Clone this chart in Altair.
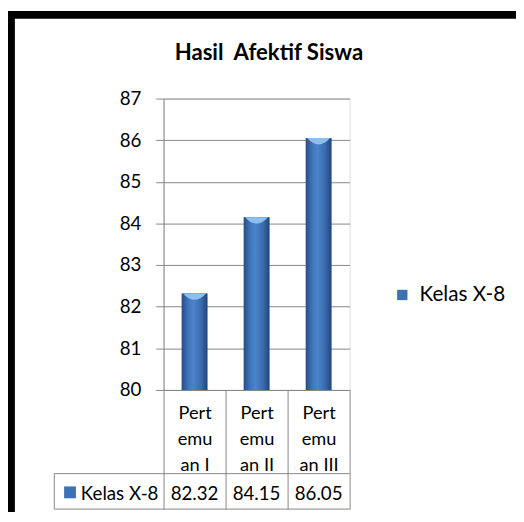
import altair as alt
import pandas as pd

# ---- data ----
categories = ["Pertemuan I", "Pertemuan II", "Pertemuan III"]
values = [82.32, 84.15, 86.05]
series_name = "Kelas X-8"
y_ticks = [80, 81, 82, 83, 84, 85, 86, 87]
title_text = "Hasil\u00a0 Afektif Siswa"

df = pd.DataFrame({
    "cat": categories,
    "value": values,
    "series": [series_name] * len(categories),
    "label": [f"{v:.2f}" for v in values],
})
row_df = pd.DataFrame({"series": [series_name]})
title_df = pd.DataFrame({"title": [title_text]})

FONT = "Lato"
GRID = "#868686"
BLUE = "#3c71b3"

W, H = 189, 296

x_enc = alt.X(
    "cat:N", sort=categories, title=None,
    scale=alt.Scale(paddingInner=0, paddingOuter=0),
    axis=alt.Axis(
        labelExpr="[slice(datum.label,0,4), slice(datum.label,4,7), slice(datum.label,7)]",
        labelAngle=0, labelAlign="center", labelBaseline="top",
        labelFont=FONT, labelFontSize=18.5, labelLineHeight=26.5, labelColor="black",
        labelPadding=-107, tickSize=121, tickBand="extent", tickColor=GRID,
        domainColor=GRID, labelOverlap=False,
    ),
)
y_enc = alt.Y(
    "value:Q", title=None,
    scale=alt.Scale(domain=[80, 87], nice=False, zero=False),
    axis=alt.Axis(
        values=y_ticks, tickSize=8, labelPadding=15, gridColor=GRID,
        domainColor=GRID, tickColor=GRID, labelFont=FONT, labelFontSize=19,
        labelColor="black", format="d",
    ),
)

base = alt.Chart(df)

bars_legend = base.mark_bar(size=26).encode(
    x=x_enc, y=y_enc, y2=alt.datum(80),
    color=alt.Color(
        "series:N", scale=alt.Scale(range=[BLUE]),
        legend=alt.Legend(
            title=None, orient="none", legendX=232, legendY=189,
            symbolType="square", symbolSize=110, symbolStrokeWidth=0,
            labelFont=FONT, labelFontSize=21, labelColor="black",
            labelOffset=7, padding=0,
        ),
    ),
)

grad = alt.Gradient(
    gradient="linear", x1=0, x2=1, y1=0, y2=0,
    stops=[
        alt.GradientStop(offset=0, color="#264d86"),
        alt.GradientStop(offset=0.25, color="#3f75ba"),
        alt.GradientStop(offset=0.45, color="#4b84cb"),
        alt.GradientStop(offset=0.75, color="#3a6cad"),
        alt.GradientStop(offset=1, color="#21457a"),
    ],
)
bars_grad = base.mark_bar(size=26, fill=grad).encode(x=x_enc, y=y_enc, y2=alt.datum(80))

caps = base.mark_point(
    shape="M -0.9 0 L 0.9 0 Q 0 1.0 -0.9 0 Z", filled=True, size=676,
    color="#8cbef0", opacity=1, strokeWidth=0,
).encode(x=x_enc, y=y_enc)

row_vals = base.mark_text(font=FONT, fontSize=19, baseline="middle", color="black").encode(
    x=x_enc, y=alt.value(402), text="label:N"
)

row_label = alt.Chart(row_df).mark_text(
    font=FONT, fontSize=19, align="left", baseline="middle", color="black"
).encode(x=alt.value(-84), y=alt.value(402), text="series:N")

row_icon = alt.Chart(row_df).mark_square(size=144, filled=True, color=BLUE, opacity=1).encode(
    x=alt.value(-95), y=alt.value(400)
)

title_mark = alt.Chart(title_df).mark_text(
    font=FONT, fontSize=22.5, fontWeight="bold", color="black",
    align="center", baseline="alphabetic",
).encode(x=alt.value(107), y=alt.value(-39), text="title:N")

def hrule(y, x1, x2, color=GRID, sw=1):
    return alt.Chart(row_df).mark_rule(color=color, strokeWidth=sw).encode(
        x=alt.value(x1), x2=alt.value(x2), y=alt.value(y))

def vrule(x, y1, y2, color=GRID, sw=1):
    return alt.Chart(row_df).mark_rule(color=color, strokeWidth=sw).encode(
        x=alt.value(x), y=alt.value(y1), y2=alt.value(y2))

table_lines = hrule(381, -111, 189) + hrule(417, -111, 189) + vrule(-111, 381, 417)
border = (vrule(-155, -88, 420, "black", 8) + hrule(-85, -158, 360, "black", 8)
          + hrule(424.5, -151, 360, "#d4d4d4", 1))

chart = alt.layer(
    bars_legend, bars_grad, caps, row_vals, row_label, row_icon, table_lines, border, title_mark
).properties(
    width=W, height=H,
    autosize=alt.AutoSizeParams(type="none"),
    padding={"left": 158, "top": 88, "right": 169, "bottom": 122},
).configure_view(stroke=None).configure(background="white")

chart.save("out.html", embed_options={"renderer": "svg", "actions": False})
